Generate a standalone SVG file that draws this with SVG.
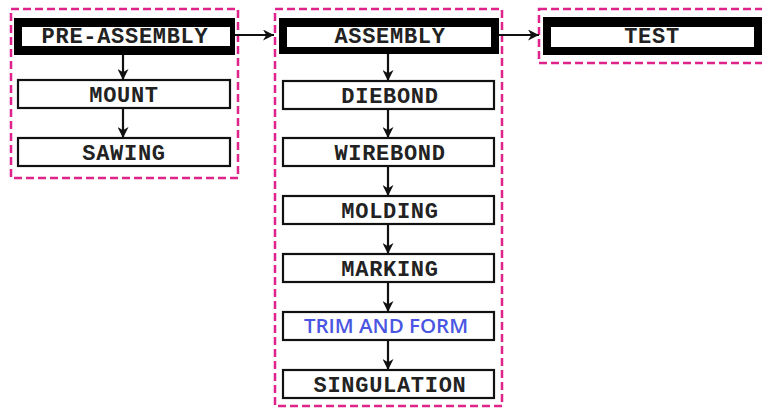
<svg xmlns="http://www.w3.org/2000/svg" width="762" height="409" viewBox="0 0 762 409">
<style>
.grp{fill:none;stroke:#e0238a;stroke-width:2.5;stroke-dasharray:8 4}
.box{fill:#fff;stroke:#111;stroke-width:2.2}
.lbl{font-family:"Liberation Mono","Courier New",monospace;font-weight:bold;font-size:22px;letter-spacing:0.7px;fill:#222;text-anchor:middle}
.blue{font-family:"Open Sans","Liberation Sans",sans-serif;font-weight:600;font-size:20.5px;fill:#4a56e2;text-anchor:middle}
.con{stroke:#111;stroke-width:2.2;fill:none;marker-end:url(#ah)}
</style>
<defs>
<marker id="ah" viewBox="0 0 10 10" refX="10" refY="5" markerWidth="5" markerHeight="5" orient="auto" markerUnits="strokeWidth">
<path d="M0,0 L10,5 L0,10 L3,5 Z" fill="#111"/>
</marker>
</defs>
<rect width="762" height="409" fill="#fff"/>
<g id="group-preassembly"><rect class="grp" x="11" y="9" width="227" height="169"/></g>
<g id="group-assembly"><rect class="grp" x="275" y="9" width="227" height="397"/></g>
<g id="group-test"><rect class="grp" x="539" y="9" width="235" height="54"/></g>

<g id="connectors">
<line class="con" x1="235" y1="35" x2="274" y2="35"/>
<line class="con" x1="499" y1="35" x2="539" y2="35"/>
<line class="con" x1="123" y1="55" x2="123" y2="80"/>
<line class="con" x1="123" y1="108" x2="123" y2="138"/>
<line class="con" x1="388" y1="54" x2="388" y2="81"/>
<line class="con" x1="388" y1="109" x2="388" y2="138"/>
<line class="con" x1="388" y1="166" x2="388" y2="196"/>
<line class="con" x1="388" y1="224" x2="388" y2="254"/>
<line class="con" x1="388" y1="282" x2="388" y2="312"/>
<line class="con" x1="388" y1="340" x2="388" y2="370"/>
</g>

<g id="pre-assembly">
<rect x="14" y="18" width="221" height="37" fill="#000"/>
<rect x="22" y="27" width="208" height="19" fill="#fff"/>
<text class="lbl" x="125" y="43">PRE-ASSEMBLY</text>
</g>
<g id="mount"><rect class="box" x="18" y="80" width="212" height="28"/><text class="lbl" x="124" y="102">MOUNT</text></g>
<g id="sawing"><rect class="box" x="18" y="138" width="212" height="28"/><text class="lbl" x="124" y="160">SAWING</text></g>

<g id="assembly">
<rect x="279" y="18" width="220" height="36" fill="#000"/>
<rect x="287" y="27" width="204" height="20" fill="#fff"/>
<text class="lbl" x="390" y="43">ASSEMBLY</text>
</g>
<g id="diebond"><rect class="box" x="283" y="81" width="211" height="28"/><text class="lbl" x="390" y="103">DIEBOND</text></g>
<g id="wirebond"><rect class="box" x="283" y="138" width="211" height="28"/><text class="lbl" x="390" y="160">WIREBOND</text></g>
<g id="molding"><rect class="box" x="283" y="196" width="211" height="28"/><text class="lbl" x="390" y="218">MOLDING</text></g>
<g id="marking"><rect class="box" x="283" y="254" width="211" height="28"/><text class="lbl" x="390" y="276">MARKING</text></g>
<g id="trim-and-form"><rect class="box" x="283" y="312" width="211" height="28"/><text class="blue" x="386" y="333">TRIM AND FORM</text></g>
<g id="singulation"><rect class="box" x="283" y="370" width="211" height="28"/><text class="lbl" x="390" y="392">SINGULATION</text></g>

<g id="test">
<rect x="543" y="17" width="230" height="38" fill="#000"/>
<rect x="551" y="27" width="203" height="20" fill="#fff"/>
<text class="lbl" x="652" y="43">TEST</text>
</g>
</svg>
